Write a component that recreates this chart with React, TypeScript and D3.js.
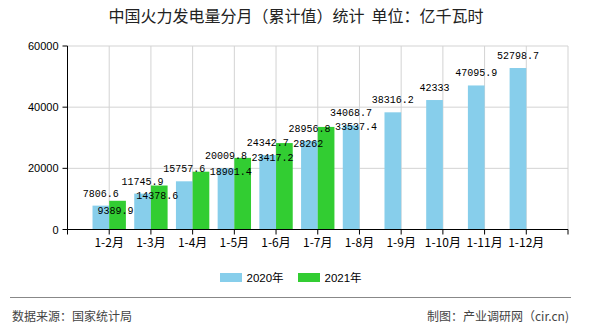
import React from "react";
import * as d3 from "d3";

const categories = ["1-2月", "1-3月", "1-4月", "1-5月", "1-6月", "1-7月", "1-8月", "1-9月", "1-10月", "1-11月", "1-12月"];
const values2020 = [7806.6, 11745.9, 15757.6, 20009.8, 24342.7, 28956.8, 34068.7, 38316.2, 42333, 47095.9, 52798.7];
const values2021 = [9389.9, 14378.6, 18901.4, 23417.2, 28262, 33537.4];
const labelMode2021 = ["below", "below", "right", "right", "right", "right"];
const yTicks = [0, 20000, 40000, 60000];
const seriesNames = ["2020年", "2021年"];
const colors = ["#87CEEB", "#32CD32"];

const W = 590;
const H = 330;
const left = 67.5;
const right = 568;
const top = 46;
const bottom = 229.5;

export default function App() {
  const slots = ["_start", ...categories, "_end"];
  const x = d3.scalePoint<string>().domain(slots).range([left, right]).padding(0);
  const step = x.step();
  const bw = step * 0.4;
  const y = d3.scaleLinear().domain([0, 60000]).range([bottom, top]);

  const labelFont = "'Liberation Mono', 'DejaVu Sans Mono', monospace";
  const cjk = "'Noto Sans CJK SC', 'Liberation Sans', sans-serif";
  const sans = "'Liberation Sans', 'Noto Sans CJK SC', sans-serif";

  return (
    <svg
      width={W}
      height={H}
      style={{ position: "absolute", left: 0, top: 0, display: "block", background: "#fff" }}
    >
      <rect x={0} y={0} width={W} height={H} fill="#fff" />
      <text x={296} y={22} textAnchor="middle" fontFamily={cjk} fontSize={16} fill="#222" style={{ whiteSpace: "pre" }}>
        {"中国火力发电量分月（累计值）统计\u00a0 单位：亿千瓦时"}
      </text>

      {/* horizontal grid */}
      {yTicks.filter((t) => t > 0).map((t) => (
        <line key={"hg" + t} x1={left} x2={right} y1={y(t)} y2={y(t)} stroke="#d3d3d3" strokeWidth={1} />
      ))}
      {/* vertical grid */}
      {slots.slice(1).map((s) => (
        <line key={"vg" + s} x1={x(s)!} x2={x(s)!} y1={top} y2={bottom} stroke="#d3d3d3" strokeWidth={1} />
      ))}

      {/* bars 2020 */}
      {values2020.map((v, i) => {
        const cx = x(categories[i])!;
        return <rect key={"b20" + i} x={cx - bw} y={y(v)} width={bw} height={bottom - y(v)} fill={colors[0]} />;
      })}
      {/* bars 2021 */}
      {values2021.map((v, i) => {
        const cx = x(categories[i])!;
        return <rect key={"b21" + i} x={cx} y={y(v)} width={bw} height={bottom - y(v)} fill={colors[1]} />;
      })}

      {/* axes */}
      <line x1={left} x2={left} y1={top} y2={bottom} stroke="#000" strokeWidth={1} />
      <line x1={left} x2={right} y1={bottom} y2={bottom} stroke="#000" strokeWidth={1} />
      {yTicks.map((t) => (
        <g key={"yt" + t}>
          <line x1={left - 5} x2={left} y1={y(t)} y2={y(t)} stroke="#000" />
          <text x={left - 9} y={y(t) + 4} textAnchor="end" fontFamily={sans} fontSize={11} fill="#000">
            {t}
          </text>
        </g>
      ))}
      {slots.map((s) => (
        <line key={"xt" + s} x1={x(s)!} x2={x(s)!} y1={bottom} y2={bottom + 5} stroke="#000" />
      ))}
      {categories.map((c) => (
        <text key={"xl" + c} x={x(c)!} y={247} textAnchor="middle" fontFamily={cjk} fontSize={12} fill="#000">
          {c}
        </text>
      ))}

      {/* data labels */}
      {values2020.map((v, i) => (
        <text
          key={"l20" + i}
          x={x(categories[i])! - bw / 2}
          y={y(v) - 9}
          textAnchor="middle"
          fontFamily={labelFont}
          fontSize={10}
          fill="#000"
        >
          {v}
        </text>
      ))}
      {values2021.map((v, i) => {
        const cx = x(categories[i])!;
        const mode = labelMode2021[i];
        return mode === "below" ? (
          <text key={"l21" + i} x={cx + bw / 2 - 2} y={y(v) + 13} textAnchor="middle" fontFamily={labelFont} fontSize={10} fill="#000">
            {v}
          </text>
        ) : (
          <text key={"l21" + i} x={cx + bw + 0.5} y={y(v) + 3.5} textAnchor="start" fontFamily={labelFont} fontSize={10} fill="#000">
            {v}
          </text>
        );
      })}

      {/* legend */}
      {seriesNames.map((n, i) => (
        <g key={"lg" + i} transform={`translate(${220 + i * 78},273)`}>
          <rect x={0} y={0} width={22} height={9} fill={colors[i]} />
          <text x={26.5} y={8.5} fontFamily={sans} fontSize={11.5} fill="#000">
            {n}
          </text>
        </g>
      ))}

      {/* footer */}
      <line x1={10} x2={571} y1={297.5} y2={297.5} stroke="#888" strokeWidth={1} />
      <text x={12} y={320.5} fontFamily={cjk} fontSize={12} fill="#444">
        数据来源：国家统计局
      </text>
      <text x={569} y={320.5} textAnchor="end" fontFamily={cjk} fontSize={12} fill="#444">
        制图：产业调研网（cir.cn)
      </text>
    </svg>
  );
}
